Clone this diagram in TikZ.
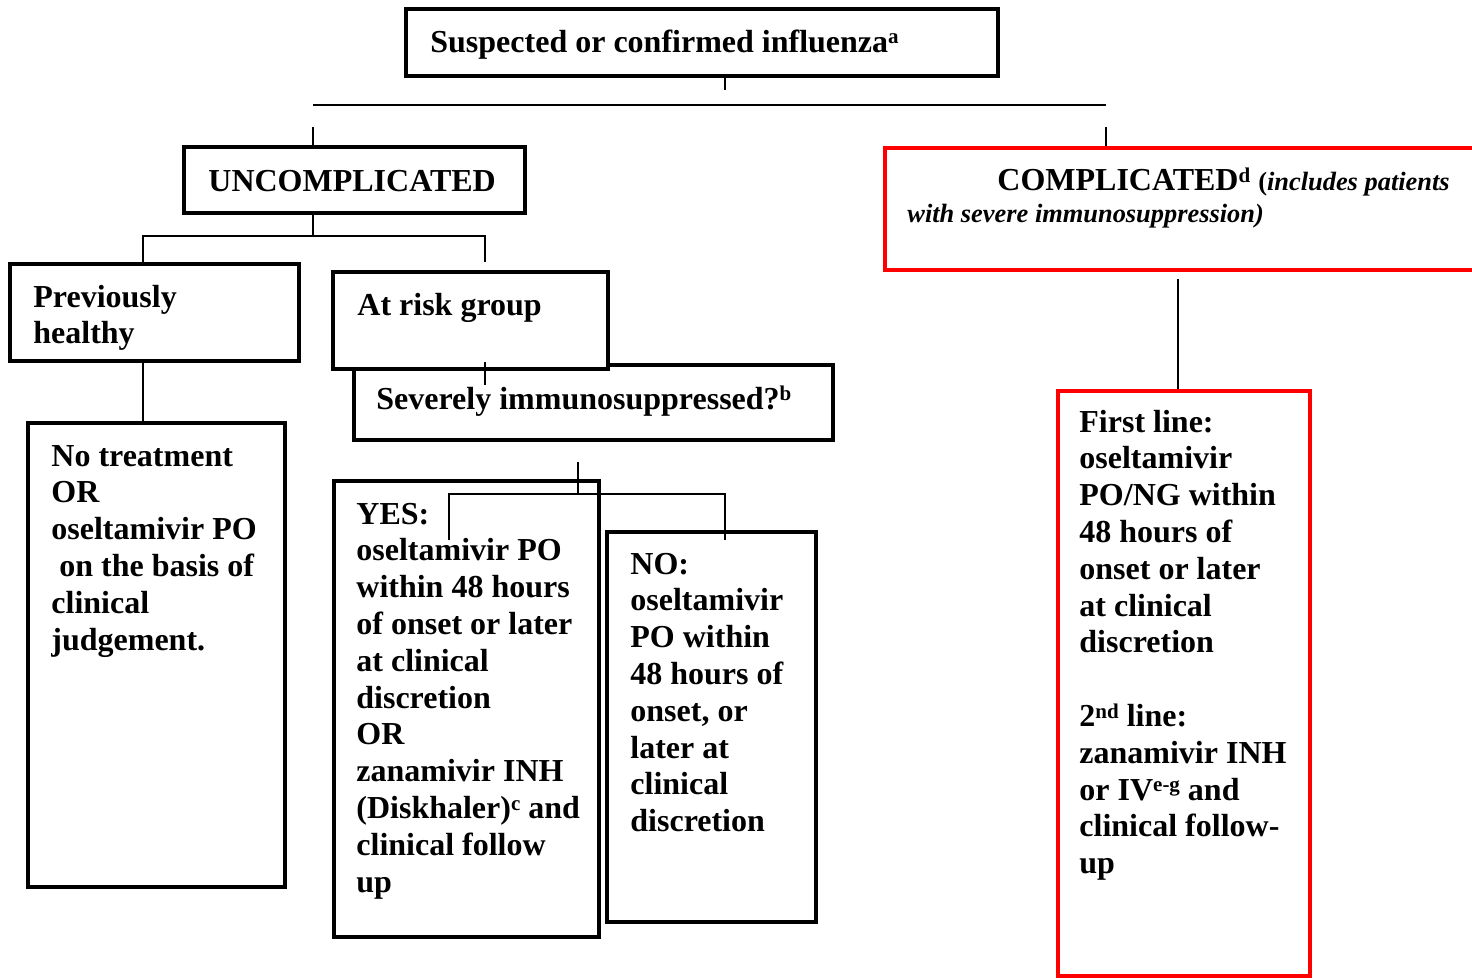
\documentclass[tikz,border=0pt]{standalone}
\usepackage{fontspec}
\setmainfont{Liberation Serif}
\usetikzlibrary{fit}

\newcommand{\supmark}[1]{\raisebox{4.2pt}{\fontsize{10.5}{10.5}\selectfont #1}}

\tikzset{
  box/.style={draw, line width=2pt, fill=white, inner sep=0pt},
  redbox/.style={box, draw=red},
  txt/.style={anchor=north west, inner sep=0pt, align=left, font=\bfseries\fontsize{16}{18.4}\selectfont},
  link/.style={line width=0.8pt}
}

\begin{document}
\begin{tikzpicture}[x=0.5pt,y=-0.5pt]
  \useasboundingbox (0,0) rectangle (1472,979);

  % boxes
  \node[box, fit={(406,9) (998,76)}] (top) {};
  \node[box, fit={(184,147) (525,213)}] (uncomp) {};
  \node[redbox, fit={(885,148) (1490,270)}] (comp) {};
  \node[box, fit={(10,264) (299,361)}] (prev) {};
  \node[box, fit={(354,365) (833,440)}] (severe) {};
  \node[box, fit={(333,272) (608,369)}] (risk) {};
  \node[box, fit={(28,423) (285,887)}] (notreat) {};
  \node[box, fit={(334,481) (599,937)}] (yes) {};
  \node[box, fit={(607,532) (816,922)}] (no) {};
  \node[redbox, fit={(1058,391) (1310,976)}] (first) {};

  % texts
  \node[txt] (toptext) at (430,26) {\strut Suspected or confirmed influenza\supmark{a}};
  \node[txt] (uncomptext) at (208,165) {\strut UNCOMPLICATED};
  \node[txt, anchor=base west] (comptitle) at (997,191)
    {COMPLICATED\supmark{d} {\fontsize{13.2}{16}\selectfont(\textit{includes patients}}};
  \node[txt, anchor=base west, font=\bfseries\itshape\fontsize{13.2}{16}\selectfont] (compnote) at (907,222)
    {with severe immunosuppression)};
  \node[txt] (prevtext) at (33,281) {\strut Previously\\healthy};
  \node[txt] (risktext) at (357,289) {\strut At risk group};
  \node[txt] (severetext) at (376,383) {\strut Severely immunosuppressed?\supmark{b}};
  \node[txt] (notreattext) at (51,440)
    {\strut No treatment\\OR\\oseltamivir PO\\\hspace*{4pt}on the basis of\\clinical\\judgement.};
  \node[txt] (yestext) at (356,498)
    {\strut YES:\\oseltamivir PO\\within 48 hours\\of onset or later\\at clinical\\discretion\\OR\\zanamivir INH\\(Diskhaler)\supmark{c} and\\clinical follow\\up};
  \node[txt] (notext) at (630,548)
    {\strut NO:\\oseltamivir\\PO within\\48 hours of\\onset, or\\later at\\clinical\\discretion};
  \node[txt] (firsttext) at (1079,406)
    {\strut First line:\\oseltamivir\\PO/NG within\\48 hours of\\onset or later\\at clinical\\discretion\\[18.4pt]2\supmark{nd} line:\\zanamivir INH\\or IV\supmark{e-g} and\\clinical follow-\\up};

  % connectors
  \coordinate (topstub) at (725,90);
  \draw[link] (top.south -| topstub) -- (topstub);
  \coordinate (barL) at (313,105);
  \coordinate (barR) at (1106,105);
  \draw[link] (barL) -- (barR);
  \coordinate (tickL) at (313,127);
  \coordinate (tickR) at (1106,127);
  \draw[link] (tickL) -- (tickL |- uncomp.north);
  \draw[link] (tickR) -- (tickR |- comp.north);

  \coordinate (ubarL) at (143,236);
  \coordinate (ubarR) at (485,236);
  \coordinate (riskstub) at (485,262);
  \draw[link] (uncomp.south -| barL) -- (barL |- ubarL);
  \draw[link] (prev.north -| ubarL) -- (ubarL) -- (ubarR) -- (riskstub);
  \draw[link] (prev.south -| ubarL) -- (notreat.north -| ubarL);

  \coordinate (sevtop) at (485,362);
  \coordinate (sevbot) at (485,385);
  \draw[link] (sevtop) -- (sevbot);
  \coordinate (sevstub) at (578,462);
  \coordinate (ynL) at (449,494);
  \coordinate (ynR) at (725,494);
  \coordinate (yesend) at (449,540);
  \coordinate (noend) at (725,540);
  \draw[link] (sevstub) -- (sevstub |- ynL);
  \draw[link] (yesend) -- (ynL) -- (ynR) -- (noend);

  \coordinate (compstub) at (1178,279);
  \draw[link] (compstub) -- (compstub |- first.north);
\end{tikzpicture}
\end{document}
